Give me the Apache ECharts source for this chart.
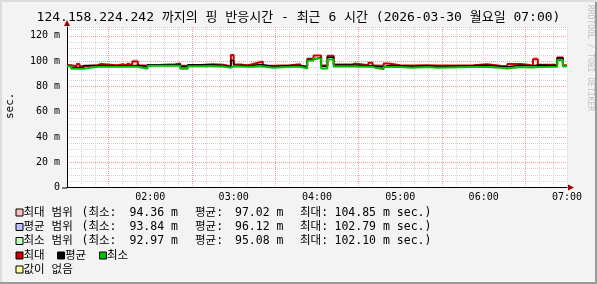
<!DOCTYPE html>
<html><head><meta charset="utf-8">
<script src="https://cdn.jsdelivr.net/npm/echarts@6/dist/echarts.min.js"></script>
<style>html,body{margin:0;padding:0;background:#f3f3f3}#c{width:597px;height:284px}</style>
</head><body><div id="c"></div>
<script>
// minutes since 01:00 at which a new value starts (step data)
const times = [0,3,7,9,12,22,24.5,36,40.5,42.5,44,47,51,58,78,81.5,87,105,112.5,118,120,125,130,133.5,137.5,141,148.5,161,168,173,177.5,183,187.5,192,205.5,207.5,217,220,222,228,231.5,240,248.5,259.5,266.5,292.5,302.5,312,317,326.5,333.5,335.5,339,353,357,360];
const maxVals = [96.8,96.0,97.8,96.0,96.8,97.8,96.8,97.6,96.8,98.0,96.8,99.7,96.5,97.6,98.2,96.3,97.6,97.1,96.0,104.8,97.4,96.8,97.6,98.7,99.5,96.3,96.8,97.6,96.0,101.8,104.5,96.5,104.2,97.4,98.2,96.8,98.7,96.6,96.3,98.2,96.8,96.6,96.8,96.6,96.8,97.6,96.3,96.0,97.8,97.0,96.8,101.5,97.1,102.9,96.8,96.8];
const avgVals = [96.6,95.0,95.0,95.0,96.6,96.6,96.4,96.4,96.4,96.6,96.4,96.8,95.5,97.1,97.1,95.5,97.1,96.6,95.5,100.5,96.8,96.3,96.6,97.1,97.1,95.8,96.6,96.6,95.3,101.3,102.8,96.0,103.0,97.0,97.0,96.4,96.6,95.8,95.3,96.6,96.4,96.0,96.4,95.8,96.3,96.8,95.8,95.5,96.8,96.3,96.3,97.0,96.6,102.4,96.0,96.0];
const minVals = [96.0,94.0,94.0,94.0,95.5,95.5,95.5,95.5,95.5,95.5,95.5,95.5,94.0,96.3,96.3,94.0,96.0,95.8,94.8,96.0,95.8,95.5,95.5,95.8,95.8,94.8,95.5,95.5,94.2,100.5,102.1,94.2,101.3,95.8,95.8,95.5,95.5,94.8,93.5,95.3,95.3,94.8,95.3,94.8,95.3,95.3,94.8,94.2,95.3,95.0,95.0,95.3,95.5,100.8,96.0,96.0];
// upper end of the "max range" band where it shows above the max line
const spikeTimes = [47,118,137.5,335.5,353];
const spikeTops = [101.3,105.2,100.5,103.4,103.4];
const xLabels = ['02:00','03:00','04:00','05:00','06:00','07:00'];
const yTicks = [0,20,40,60,80,100,120];
const title = '124.158.224.242 까지의 핑 반응시간 - 최근 6 시간 (2026-03-30 월요일 07:00)';
const legendRows = [
  {name:'최대 범위', min:'94.36', avg:'97.02', max:'104.85', color:'#ffc0c0'},
  {name:'평균 범위', min:'93.84', avg:'96.12', max:'102.79', color:'#c0c0ff'},
  {name:'최소 범위', min:'92.97', avg:'95.08', max:'102.10', color:'#c0ffc0'}
];
const lineLegend = [{name:'최대',color:'#cc0000'},{name:'평균',color:'#000000'},{name:'최소',color:'#00c000'}];

(function(){
const mono = "'DejaVu Sans Mono','Noto Sans CJK KR',monospace";
const pair = (arr) => times.map((t,i)=>[t,arr[i]]);
// band rectangles: [start, end, bottom(max line), top(range top)]
const bandData = spikeTimes.map((t,k)=>{
  const i = times.indexOf(t);
  return [t, times[i+1], maxVals[i], spikeTops[k]];
});

const chart = echarts.init(document.getElementById('c'), null, {renderer:'canvas'});
const gx = ['#d4d4d4','#d4d4d4','#d4d4d4','rgba(240,120,120,0.75)','#d4d4d4','#d4d4d4'];
const gy = ['rgba(240,120,120,0.75)','#d4d4d4','#d4d4d4','#d4d4d4'];
const option = {
  backgroundColor:'#f3f3f3',
  animation:false,
  grid:{left:67,right:30,top:27,bottom:96.5,show:true,backgroundColor:'#ffffff',borderWidth:0},
  xAxis:{type:'value',min:0,max:360,interval:10,
    axisLine:{lineStyle:{color:'#000',width:1}},
    axisTick:{show:false},
    axisLabel:{fontFamily:mono,fontSize:10,color:'#000',margin:5,
      formatter:(v)=>{ if(v>0 && v%60===0){return xLabels[v/60-1];} return ''; }},
    splitLine:{show:true,lineStyle:{color:gx,type:[1,1],width:1}}
  },
  yAxis:{type:'value',min:0,max:127,interval:5,
    axisLine:{show:true,lineStyle:{color:'#000',width:1}},
    axisTick:{show:false},
    axisLabel:{fontFamily:mono,fontSize:10,color:'#000',margin:7,
      formatter:(v)=>{ if(yTicks.indexOf(v)<0) return ''; return v===0?'0':v+' m'; }},
    splitLine:{show:true,lineStyle:{color:gy,type:[1,1],width:1}}
  },
  series:[
    {type:'custom',data:bandData,silent:true,z:1,
      renderItem:(params,api)=>{
        const p0 = api.coord([api.value(0), api.value(3)]);
        const p1 = api.coord([api.value(1), api.value(2)]);
        return {type:'rect',shape:{x:p0[0],y:p0[1],width:p1[0]-p0[0],height:p1[1]-p0[1]},style:{fill:'#ffb0b0'}};
      }},
    {type:'line',data:pair(maxVals),step:'end',showSymbol:false,lineStyle:{color:'#cc0000',width:2},z:3},
    {type:'line',data:pair(avgVals),step:'end',showSymbol:false,lineStyle:{color:'#000000',width:1.5},z:4},
    {type:'line',data:pair(minVals),step:'end',showSymbol:false,lineStyle:{color:'#00c000',width:2},z:5}
  ]
};
chart.setOption(option);

const g = [];
g.push({type:'text',left:'center',top:11,style:{text:title,font:'13px '+mono,fill:'#000'}});
g.push({type:'text',x:5,y:119,rotation:Math.PI/2,style:{text:'sec.',font:'11px '+mono,fill:'#000'}});
g.push({type:'text',x:594,y:5,rotation:-Math.PI/2,style:{text:'RRDTOOL / TOBI OETIKER',font:'8px '+mono,fill:'#c0c0c0'}});
g.push({type:'rect',shape:{x:0,y:282,width:597,height:2},style:{fill:'#9a9a9a'},silent:true});
g.push({type:'rect',shape:{x:595,y:0,width:2,height:284},style:{fill:'#9a9a9a'},silent:true});
g.push({type:'rect',shape:{x:0,y:0,width:597,height:2},style:{fill:'#dcdcdc'},silent:true});
g.push({type:'rect',shape:{x:0,y:0,width:2,height:282},style:{fill:'#dcdcdc'},silent:true});
const pTop = chart.convertToPixel({gridIndex:0},[0,127]);
const pRight = chart.convertToPixel({gridIndex:0},[360,0]);
g.push({type:'polygon',shape:{points:[[pTop[0]-3,pTop[1]-1],[pTop[0]+3,pTop[1]-1],[pTop[0],pTop[1]-7]]},style:{fill:'#a00000'}});
g.push({type:'polygon',shape:{points:[[pRight[0]+1,pRight[1]-3],[pRight[0]+1,pRight[1]+3],[pRight[0]+7,pRight[1]]]},style:{fill:'#a00000'}});
g.push({type:'line',shape:{x1:pTop[0]-5,y1:pRight[1]+0.5,x2:pTop[0],y2:pRight[1]+0.5},style:{stroke:'#000',lineWidth:1}});
const fs = '11.5px '+mono;
const rowY = [213,227.5,241.5];
legendRows.forEach((r,i)=>{
  const y = rowY[i];
  g.push({type:'rect',shape:{x:16,y:y-4,width:7,height:7},style:{fill:r.color,stroke:'#000',lineWidth:1}});
  g.push({type:'text',x:23.5,y:y,style:{text:r.name,font:fs,fill:'#000',verticalAlign:'middle'}});
  g.push({type:'text',x:81.5,y:y,style:{text:'(최소:',font:fs,fill:'#000',verticalAlign:'middle'}});
  g.push({type:'text',x:129.5,y:y,style:{text:r.min+' m',font:fs,fill:'#000',verticalAlign:'middle'}});
  g.push({type:'text',x:195,y:y,style:{text:'평균:',font:fs,fill:'#000',verticalAlign:'middle'}});
  g.push({type:'text',x:235,y:y,style:{text:r.avg+' m',font:fs,fill:'#000',verticalAlign:'middle'}});
  g.push({type:'text',x:300,y:y,style:{text:'최대:',font:fs,fill:'#000',verticalAlign:'middle'}});
  g.push({type:'text',x:334.5,y:y,style:{text:r.max+' m sec.)',font:fs,fill:'#000',verticalAlign:'middle'}});
});
const lx = [16,57.5,99.5];
lineLegend.forEach((l,i)=>{
  g.push({type:'rect',shape:{x:lx[i],y:252,width:7,height:7},style:{fill:l.color,stroke:'#000',lineWidth:1}});
  g.push({type:'text',x:lx[i]+7.5,y:256,style:{text:l.name,font:fs,fill:'#000',verticalAlign:'middle'}});
});
g.push({type:'rect',shape:{x:16,y:266,width:7,height:7},style:{fill:'#ffffa0',stroke:'#000',lineWidth:1}});
g.push({type:'text',x:23.5,y:270,style:{text:'값이 없음',font:fs,fill:'#000',verticalAlign:'middle'}});
chart.setOption({graphic:{elements:g}});
})();
</script></body></html>
